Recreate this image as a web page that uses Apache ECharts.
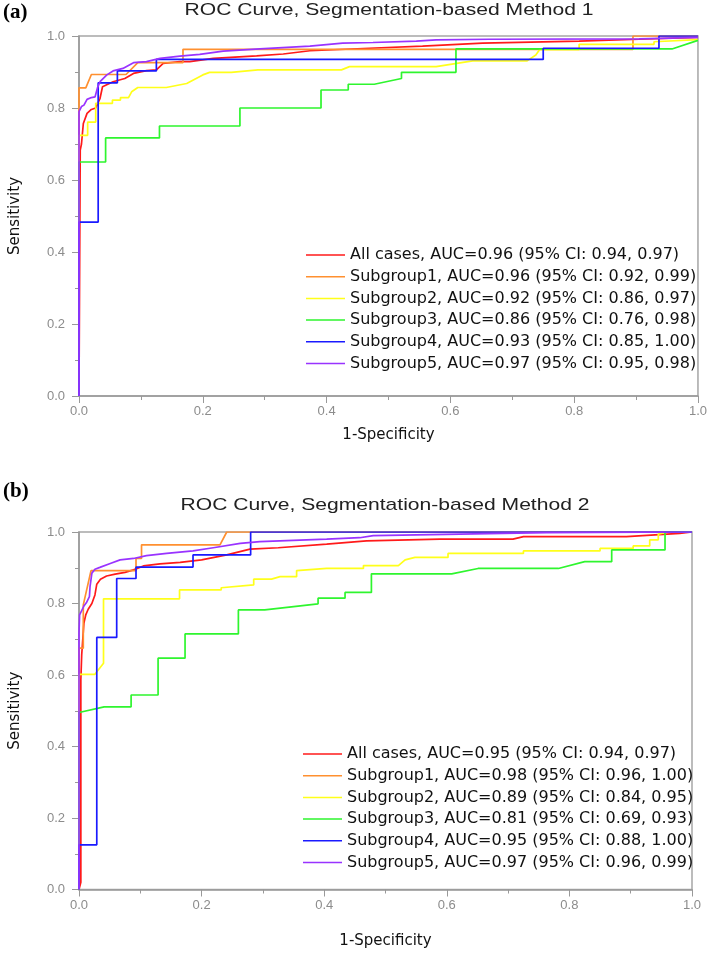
<!DOCTYPE html>
<html>
<head>
<meta charset="utf-8">
<script src="https://cdn.jsdelivr.net/npm/echarts@6/dist/echarts.min.js"></script>
<style>
html,body{margin:0;padding:0;background:#fff;}
#chart{width:710px;height:956px;}
</style>
</head>
<body>
<div id="chart"></div>
<script>
// ---------- Data ----------
const xTickValues = [0, 0.2, 0.4, 0.6, 0.8, 1.0];
const yTickValues = [0, 0.2, 0.4, 0.6, 0.8, 1.0];

const legendA = [
  "All cases, AUC=0.96 (95% CI: 0.94, 0.97)",
  "Subgroup1, AUC=0.96 (95% CI: 0.92, 0.99)",
  "Subgroup2, AUC=0.92 (95% CI: 0.86, 0.97)",
  "Subgroup3, AUC=0.86 (95% CI: 0.76, 0.98)",
  "Subgroup4, AUC=0.93 (95% CI: 0.85, 1.00)",
  "Subgroup5, AUC=0.97 (95% CI: 0.95, 0.98)"
];
const legendB = [
  "All cases, AUC=0.95 (95% CI: 0.94, 0.97)",
  "Subgroup1, AUC=0.98 (95% CI: 0.96, 1.00)",
  "Subgroup2, AUC=0.89 (95% CI: 0.84, 0.95)",
  "Subgroup3, AUC=0.81 (95% CI: 0.69, 0.93)",
  "Subgroup4, AUC=0.95 (95% CI: 0.88, 1.00)",
  "Subgroup5, AUC=0.97 (95% CI: 0.96, 0.99)"
];

// Panel (a) curves: [1-Specificity, Sensitivity]
const allCasesA = [[0,0],[0.002,0.683],[0.004,0.70],[0.007,0.757],[0.013,0.785],[0.02,0.796],[0.027,0.80],[0.034,0.827],[0.038,0.859],[0.055,0.873],[0.074,0.882],[0.088,0.896],[0.109,0.904],[0.125,0.906],[0.136,0.924],[0.163,0.929],[0.179,0.929],[0.217,0.938],[0.287,0.945],[0.33,0.95],[0.373,0.959],[0.469,0.966],[0.555,0.972],[0.652,0.98],[0.808,0.986],[0.905,0.991],[1,0.996]];
const subgroup1A = [[0,0],[0,0.856],[0.011,0.856],[0.02,0.893],[0.076,0.893],[0.095,0.926],[0.168,0.926],[0.168,0.963],[0.895,0.963],[0.895,1],[1,1]];
const subgroup2A = [[0,0],[0,0.724],[0.014,0.724],[0.014,0.761],[0.027,0.761],[0.027,0.813],[0.054,0.813],[0.054,0.822],[0.067,0.822],[0.067,0.829],[0.08,0.829],[0.085,0.845],[0.095,0.857],[0.141,0.857],[0.174,0.868],[0.2,0.892],[0.211,0.899],[0.246,0.899],[0.289,0.906],[0.424,0.906],[0.437,0.915],[0.577,0.915],[0.636,0.931],[0.724,0.931],[0.738,0.947],[0.744,0.962],[0.808,0.962],[0.808,0.977],[0.929,0.977],[0.929,0.984],[1,0.99]];
const subgroup3A = [[0,0],[0,0.65],[0.043,0.65],[0.043,0.717],[0.13,0.717],[0.13,0.75],[0.26,0.75],[0.26,0.80],[0.391,0.80],[0.391,0.85],[0.435,0.85],[0.435,0.866],[0.477,0.866],[0.521,0.882],[0.521,0.899],[0.609,0.899],[0.609,0.964],[0.958,0.964],[1,0.988]];
const subgroup4A = [[0,0],[0,0.483],[0.031,0.483],[0.031,0.87],[0.062,0.87],[0.062,0.903],[0.125,0.903],[0.125,0.935],[0.75,0.935],[0.75,0.966],[0.937,0.966],[0.937,1],[1,1]];
const subgroup5A = [[0,0],[0,0.79],[0.004,0.804],[0.008,0.808],[0.013,0.824],[0.02,0.829],[0.026,0.831],[0.03,0.857],[0.034,0.873],[0.045,0.892],[0.055,0.903],[0.071,0.91],[0.088,0.926],[0.109,0.929],[0.131,0.938],[0.163,0.944],[0.195,0.949],[0.233,0.958],[0.292,0.964],[0.373,0.972],[0.426,0.98],[0.475,0.982],[0.545,0.986],[0.577,0.989],[0.663,0.991],[0.905,0.992],[1,0.996]];

// Panel (b) curves
const allCasesB = [[0,0],[0.003,0.02],[0.003,0.586],[0.0044,0.656],[0.008,0.745],[0.011,0.768],[0.015,0.784],[0.021,0.80],[0.026,0.824],[0.029,0.854],[0.035,0.868],[0.045,0.877],[0.059,0.882],[0.075,0.887],[0.089,0.894],[0.105,0.905],[0.132,0.911],[0.165,0.915],[0.2,0.922],[0.241,0.936],[0.279,0.952],[0.325,0.956],[0.404,0.966],[0.469,0.975],[0.589,0.98],[0.708,0.98],[0.725,0.987],[0.893,0.987],[0.98,0.996],[1,1]];
const subgroup1B = [[0,0],[0,0.675],[0.007,0.675],[0.007,0.796],[0.0196,0.892],[0.093,0.892],[0.093,0.926],[0.102,0.926],[0.102,0.964],[0.23,0.964],[0.241,1],[1,1]];
const subgroup2B = [[0,0],[0,0.602],[0.026,0.602],[0.04,0.633],[0.04,0.813],[0.164,0.813],[0.164,0.838],[0.232,0.838],[0.232,0.844],[0.285,0.852],[0.285,0.868],[0.314,0.868],[0.328,0.875],[0.355,0.875],[0.355,0.892],[0.404,0.898],[0.464,0.898],[0.464,0.906],[0.521,0.906],[0.532,0.922],[0.548,0.929],[0.602,0.929],[0.602,0.94],[0.725,0.94],[0.725,0.947],[0.85,0.947],[0.85,0.954],[0.904,0.954],[0.904,0.961],[0.931,0.961],[0.931,0.978],[0.945,0.978],[0.945,0.994],[0.96,1],[1,1]];
const subgroup3B = [[0,0],[0,0.495],[0.041,0.511],[0.085,0.511],[0.085,0.544],[0.129,0.544],[0.129,0.647],[0.173,0.647],[0.173,0.715],[0.26,0.715],[0.26,0.782],[0.303,0.782],[0.39,0.799],[0.39,0.815],[0.434,0.815],[0.434,0.831],[0.477,0.831],[0.477,0.883],[0.608,0.883],[0.651,0.898],[0.782,0.898],[0.825,0.917],[0.869,0.917],[0.869,0.95],[0.956,0.95],[0.956,1],[1,1]];
const subgroup4B = [[0,0],[0,0.125],[0.029,0.125],[0.029,0.705],[0.0615,0.705],[0.0615,0.87],[0.093,0.87],[0.093,0.902],[0.186,0.902],[0.186,0.936],[0.28,0.936],[0.28,1],[1,1]];
const subgroup5B = [[0,0],[0,0.717],[0.001,0.768],[0.008,0.793],[0.012,0.802],[0.017,0.819],[0.018,0.847],[0.021,0.885],[0.026,0.896],[0.034,0.901],[0.051,0.912],[0.067,0.922],[0.089,0.926],[0.11,0.934],[0.143,0.94],[0.186,0.947],[0.219,0.956],[0.263,0.968],[0.295,0.973],[0.404,0.98],[0.458,0.984],[0.48,0.99],[0.763,0.998],[1,1]];

const curvesA = [allCasesA, subgroup1A, subgroup2A, subgroup3A, subgroup4A, subgroup5A];
const curvesB = [allCasesB, subgroup1B, subgroup2B, subgroup3B, subgroup4B, subgroup5B];
const colors = ['#ff1a1a', '#ff9030', '#ffff1a', '#2ef52e', '#1a1aff', '#9933ff'];

// ---------- Chart ----------
const FONT = '"Liberation Sans", Arial, sans-serif';
const WIDE = '"DejaVu Sans", Verdana, sans-serif';
const chart = echarts.init(document.getElementById('chart'), null, {renderer: 'canvas'});

function makeX(gi, gap) {
  return {
    gridIndex: gi, type: 'value', min: 0, max: 1, interval: 0.2,
    axisLine: {show: true, onZero: false, lineStyle: {color: '#999', width: 1.5}},
    axisTick: {show: true, inside: false, length: 7, lineStyle: {color: '#999', width: 1}},
    minorTick: {show: true, splitNumber: 2, length: 4, lineStyle: {color: '#999', width: 1}},
    splitLine: {show: false},
    axisLabel: {color: '#8c8c8c', fontSize: 13, fontFamily: FONT, margin: 9,
      formatter: v => (xTickValues.find(t => Math.abs(t - v) < 1e-9) ?? v).toFixed(1)},
    name: '1-Specificity', nameLocation: 'middle', nameGap: gap,
    nameTextStyle: {color: '#111', fontSize: 15, fontFamily: WIDE}
  };
}
function makeY(gi) {
  return {
    gridIndex: gi, type: 'value', min: 0, max: 1, interval: 0.2,
    axisLine: {show: true, onZero: false, lineStyle: {color: '#999', width: 1.5}},
    axisTick: {show: true, inside: false, length: 7, lineStyle: {color: '#999', width: 1}},
    minorTick: {show: true, splitNumber: 2, length: 4, lineStyle: {color: '#999', width: 1}},
    splitLine: {show: false},
    axisLabel: {color: '#8c8c8c', fontSize: 13, fontFamily: FONT, margin: 14,
      formatter: v => (yTickValues.find(t => Math.abs(t - v) < 1e-9) ?? v).toFixed(1)},
    name: 'Sensitivity', nameLocation: 'middle', nameGap: 56, nameRotate: 90,
    nameTextStyle: {color: '#111', fontSize: 15, fontFamily: WIDE}
  };
}
function makeSeries(curves, names, gi) {
  return curves.map((d, i) => ({
    name: names[i], type: 'line', xAxisIndex: gi, yAxisIndex: gi,
    data: d, showSymbol: false, symbol: 'none',
    lineStyle: {color: colors[i], width: 1.7}, itemStyle: {color: colors[i]},
    z: 2 + i
  }));
}
function makeLegend(names, left, top) {
  return {
    data: names, orient: 'vertical', left: left, top: top, padding: 0,
    icon: 'rect', itemWidth: 39, itemHeight: 1.5, itemGap: 5.7,
    selectedMode: false,
    textStyle: {color: '#111', fontSize: 16, lineHeight: 16, fontFamily: WIDE}
  };
}

const option = {
  animation: false,
  backgroundColor: '#fff',
  grid: [
    {left: 79, top: 36, width: 620, height: 360, show: true, borderColor: '#a6a6a6', borderWidth: 1.5, backgroundColor: 'transparent'},
    {left: 79, top: 532, width: 613, height: 357.5, show: true, borderColor: '#a6a6a6', borderWidth: 1.5, backgroundColor: 'transparent'}
  ],
  xAxis: [makeX(0, 32), makeX(1, 44)],
  yAxis: [makeY(0), makeY(1)],
  legend: [makeLegend(legendA, 306, 247), makeLegend(legendB, 303, 746)],
  series: [...makeSeries(curvesA, legendA, 0), ...makeSeries(curvesB, legendB, 1)],
  graphic: [
    {type: 'text', left: 3, top: 2, style: {text: '(a)', fill: '#000', font: 'bold 21px "Liberation Serif", "Times New Roman", serif'}},
    {type: 'text', left: 3, top: 481, style: {text: '(b)', fill: '#000', font: 'bold 21px "Liberation Serif", "Times New Roman", serif'}},
    {type: 'text', x: 389, y: 10, scaleX: 1.24, style: {text: 'ROC Curve, Segmentation-based Method 1', fill: '#222', font: '17px ' + FONT, align: 'center', verticalAlign: 'middle'}},
    {type: 'text', x: 385, y: 505, scaleX: 1.24, style: {text: 'ROC Curve, Segmentation-based Method 2', fill: '#222', font: '17px ' + FONT, align: 'center', verticalAlign: 'middle'}}
  ]
};
chart.setOption(option);
</script>
</body>
</html>
